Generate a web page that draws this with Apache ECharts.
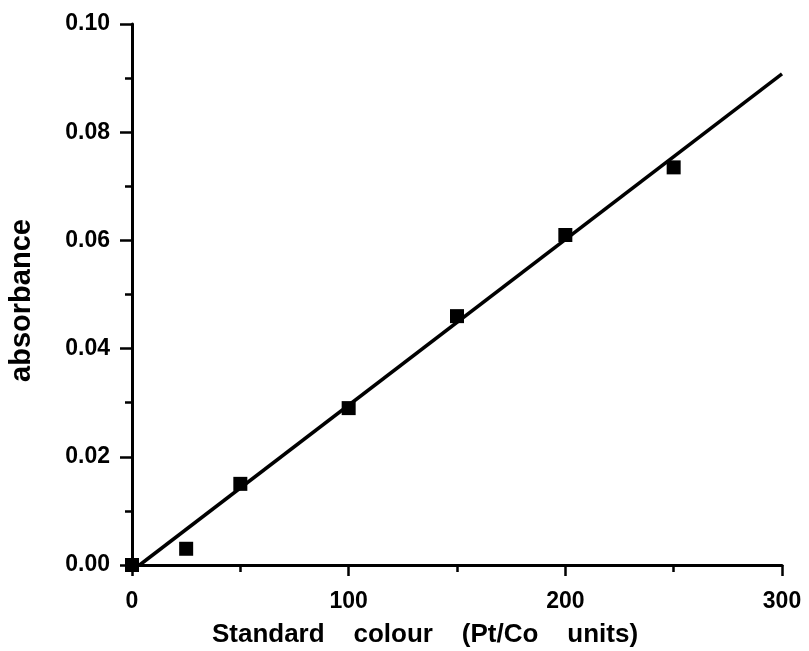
<!DOCTYPE html>
<html>
<head>
<meta charset="utf-8">
<script src="https://cdn.jsdelivr.net/npm/echarts@6/dist/echarts.min.js"></script>
<style>
  html, body { margin: 0; padding: 0; background: #fff; }
  #chart { width: 809px; height: 651px; }
</style>
</head>
<body>
<div id="chart"></div>
<script>
// Calibration standards: colour (Pt/Co units) vs measured absorbance
const stdColour = [0, 25, 50, 100, 150, 200, 250];
const absorbance = [0.000, 0.003, 0.015, 0.029, 0.046, 0.061, 0.0735];

// Fitted calibration line (end points)
const fitColour = [3.5, 300];
const fitAbsorbance = [0.000, 0.0908];

// Axis tick labels
const xTickLabels = ['0', '100', '200', '300'];
const yTickLabels = ['0.00', '0.02', '0.04', '0.06', '0.08', '0.10'];

const FONT = '"Liberation Sans", Arial, Helvetica, sans-serif';

const chart = echarts.init(document.getElementById('chart'), null, { renderer: 'canvas' });

const axisLine = { show: true, lineStyle: { color: '#000', width: 3 } };

chart.setOption({
  backgroundColor: '#fff',
  animation: false,
  grid: {
    left: 132, right: 27, top: 24, bottom: 86,
    containLabel: false,
    outerBoundsMode: 'none'
  },
  xAxis: {
    type: 'value',
    min: 0, max: 300, interval: 100,
    name: 'Standard    colour    (Pt/Co    units)',
    nameLocation: 'middle',
    nameGap: 57,
    nameTextStyle: {
      fontFamily: FONT, fontWeight: 'bold', fontSize: 26, color: '#000',
      padding: [0, 64, 0, 0]
    },
    axisLine: axisLine,
    axisTick: { show: true, inside: false, length: 11, lineStyle: { color: '#000', width: 2.5 } },
    minorTick: { show: true, splitNumber: 2, length: 7, lineStyle: { color: '#000', width: 2.5 } },
    splitLine: { show: false },
    axisLabel: {
      margin: 25,
      fontFamily: FONT, fontWeight: 'bold', fontSize: 23, color: '#000',
      formatter: v => xTickLabels[Math.round(v / 100)]
    }
  },
  yAxis: {
    type: 'value',
    min: 0, max: 0.1, interval: 0.02,
    name: 'absorbance',
    nameLocation: 'middle',
    nameGap: 96,
    nameRotate: 90,
    nameTextStyle: {
      fontFamily: FONT, fontWeight: 'bold', fontSize: 29, color: '#000',
      padding: [0, 12, 0, 0]
    },
    axisLine: axisLine,
    axisTick: { show: true, inside: false, length: 12, lineStyle: { color: '#000', width: 2.5 } },
    minorTick: { show: true, splitNumber: 2, length: 7, lineStyle: { color: '#000', width: 2.5 } },
    splitLine: { show: false },
    axisLabel: {
      margin: 22,
      fontFamily: FONT, fontWeight: 'bold', fontSize: 23, color: '#000',
      formatter: v => yTickLabels[Math.round(v / 0.02)]
    }
  },
  series: [
    {
      name: 'fit',
      type: 'line',
      data: fitColour.map((x, i) => [x, fitAbsorbance[i]]),
      showSymbol: false,
      symbol: 'none',
      lineStyle: { color: '#000', width: 3.5 },
      z: 2
    },
    {
      name: 'standards',
      type: 'scatter',
      data: stdColour.map((x, i) => [x, absorbance[i]]),
      symbol: 'rect',
      symbolSize: 14,
      itemStyle: { color: '#000', opacity: 1 },
      z: 3
    }
  ]
});
</script>
</body>
</html>
